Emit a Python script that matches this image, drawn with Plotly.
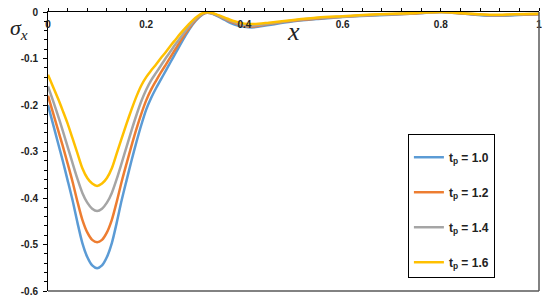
import plotly.graph_objects as go

x_vals = [0, 0.01, 0.02, 0.03, 0.04, 0.05, 0.06, 0.07, 0.08, 0.09, 0.10, 0.11, 0.12, 0.13, 0.14,
          0.15, 0.16, 0.17, 0.18, 0.19, 0.20, 0.21, 0.22, 0.23, 0.24, 0.25, 0.26, 0.27, 0.28,
          0.29, 0.30, 0.31, 0.32, 0.33, 0.34, 0.36, 0.38, 0.40, 0.42, 0.45, 0.5, 0.55, 0.6,
          0.65, 0.7, 0.75, 0.8, 0.85, 0.9, 0.95, 1.0]

sigma_tp10 = [-0.200, -0.240, -0.280, -0.320, -0.362, -0.405, -0.453, -0.497, -0.527, -0.545,
              -0.551, -0.545, -0.527, -0.497, -0.453, -0.405, -0.362, -0.320, -0.280, -0.243,
              -0.210, -0.185, -0.164, -0.145, -0.126, -0.107, -0.088, -0.069, -0.051, -0.034,
              -0.020, -0.009, -0.002, -0.002, -0.006, -0.017, -0.027, -0.032, -0.033, -0.028,
              -0.020, -0.015, -0.011, -0.008, -0.006, -0.003, 0.000, -0.004, -0.008, -0.007,
              -0.005]
sigma_tp12 = [-0.180, -0.216, -0.252, -0.288, -0.326, -0.365, -0.408, -0.447, -0.474, -0.490,
              -0.495, -0.490, -0.474, -0.447, -0.408, -0.365, -0.326, -0.288, -0.252, -0.219,
              -0.190, -0.167, -0.148, -0.130, -0.113, -0.096, -0.079, -0.062, -0.046, -0.031,
              -0.018, -0.008, -0.002, -0.002, -0.005, -0.015, -0.024, -0.030, -0.031, -0.026,
              -0.019, -0.014, -0.010, -0.007, -0.005, -0.003, 0.000, -0.004, -0.007, -0.006,
              -0.005]
sigma_tp14 = [-0.160, -0.190, -0.222, -0.255, -0.290, -0.325, -0.359, -0.389, -0.410, -0.423,
              -0.428, -0.423, -0.410, -0.389, -0.359, -0.325, -0.290, -0.255, -0.222, -0.192,
              -0.167, -0.147, -0.131, -0.115, -0.099, -0.084, -0.069, -0.055, -0.041, -0.028,
              -0.016, -0.007, -0.001, -0.002, -0.005, -0.014, -0.022, -0.028, -0.029, -0.025,
              -0.018, -0.013, -0.010, -0.007, -0.005, -0.002, 0.000, -0.003, -0.007, -0.006,
              -0.004]
sigma_tp16 = [-0.135, -0.160, -0.185, -0.212, -0.240, -0.272, -0.304, -0.336, -0.357, -0.369,
              -0.374, -0.369, -0.357, -0.336, -0.304, -0.272, -0.240, -0.210, -0.182, -0.158,
              -0.140, -0.126, -0.113, -0.099, -0.086, -0.072, -0.059, -0.046, -0.034, -0.023,
              -0.013, -0.005, -0.001, -0.001, -0.004, -0.012, -0.020, -0.025, -0.026, -0.023,
              -0.017, -0.012, -0.009, -0.006, -0.004, -0.002, 0.000, -0.003, -0.006, -0.005,
              -0.004]

series_names = ["t<sub>p</sub> = 1.0", "t<sub>p</sub> = 1.2", "t<sub>p</sub> = 1.4", "t<sub>p</sub> = 1.6"]
series_vals = [sigma_tp10, sigma_tp12, sigma_tp14, sigma_tp16]
colors = ["#5B9BD5", "#ED7D31", "#A5A5A5", "#FFC000"]

fig = go.Figure()
for i, (name, vals, col) in enumerate(zip(series_names, series_vals, colors)):
    fig.add_trace(go.Scatter(
        x=x_vals, y=vals, mode="lines", name=name,
        line=dict(color=col, width=2.5, shape="spline", smoothing=0.8),
        legendgroup=f"g{i}",
    ))

tickfont = dict(family="Liberation Sans", size=10, color="#222", weight="bold")

# page body has an 8px margin, so the figure is sized/positioned accordingly
fig.update_layout(
    width=542, height=291,
    margin=dict(l=40, r=11, t=4, b=8, autoexpand=False),
    paper_bgcolor="white", plot_bgcolor="white",
    showlegend=True,
    legend=dict(
        x=0.733, y=0.563, xanchor="left", yanchor="top",
        bordercolor="black", borderwidth=1, bgcolor="white",
        font=dict(family="Liberation Sans", size=12, color="#222", weight="bold"),
        title=dict(text=" ", font=dict(size=6)),
        tracegroupgap=16, itemwidth=30,
    ),
    xaxis=dict(
        range=[0, 1], side="top", showgrid=False, zeroline=False, automargin=False,
        showline=True, linecolor="black", linewidth=1,
        ticks="outside", ticklen=4, tickcolor="black",
        tickvals=[0, 0.2, 0.4, 0.6, 0.8, 1.0], ticktext=["0", "0.2", "0.4", "0.6", "0.8", "1"],
        ticklabelposition="inside", ticklabeloverflow="allow", ticklabelstandoff=8,
        tickfont=tickfont,
        minor=dict(dtick=0.04, ticks="outside", ticklen=3, tickcolor="black", showgrid=False),
    ),
    yaxis=dict(
        range=[-0.6, 0], showgrid=False, zeroline=False, automargin=False,
        showline=True, linecolor="black", linewidth=1,
        ticks="outside", ticklen=4, tickcolor="black",
        tickvals=[0, -0.1, -0.2, -0.3, -0.4, -0.5, -0.6],
        ticktext=["0", "-0.1", "-0.2", "-0.3", "-0.4", "-0.5", "-0.6"],
        ticklabeloverflow="allow", ticklabelstandoff=3, tickfont=tickfont,
        minor=dict(dtick=0.02, ticks="outside", ticklen=3, tickcolor="black", showgrid=False),
    ),
    shapes=[
        dict(type="line", xref="paper", yref="paper", x0=1, x1=1, y0=0, y1=1,
             line=dict(color="#595959", width=1.5)),
        dict(type="line", xref="paper", yref="paper", x0=0, x1=1, y0=0, y1=0,
             line=dict(color="#595959", width=1.5)),
    ],
    annotations=[
        dict(text="<i>σ<sub>x</sub></i>", xref="paper", yref="paper", x=-0.081, y=0.94,
             xanchor="left", yanchor="middle", showarrow=False,
             font=dict(family="Liberation Serif", size=22, color="#222")),
        dict(text="<i>x</i>", xref="paper", yref="paper", x=0.499, y=0.93,
             xanchor="center", yanchor="middle", showarrow=False,
             font=dict(family="Liberation Serif", size=26, color="#222")),
    ],
)

fig.write_html("out.html")
